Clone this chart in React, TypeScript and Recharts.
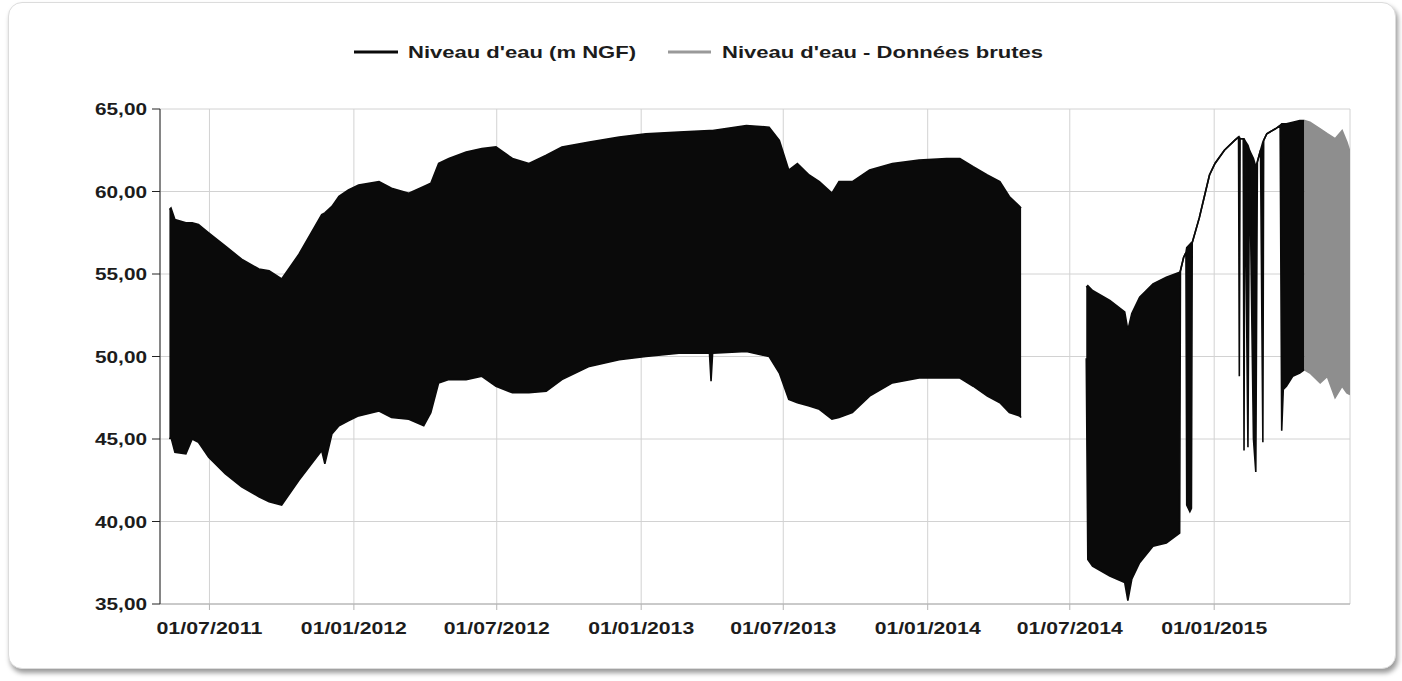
import { ComposedChart, Area, XAxis, YAxis, CartesianGrid } from 'recharts';

// --- Data ---
// Niveau d'eau (m NGF): daily min / max envelope, part 1 (May 2011 -> Apr 2014)
const seg1Dates = [
  '2011-05-11', '2011-05-13', '2011-05-18', '2011-06-01', '2011-06-09', '2011-06-17', '2011-06-30',
  '2011-07-21', '2011-08-11', '2011-09-02', '2011-09-15', '2011-10-01', '2011-10-23', '2011-11-21',
  '2011-11-25', '2011-12-04', '2011-12-13', '2011-12-25', '2012-01-07', '2012-02-02', '2012-02-18',
  '2012-03-11', '2012-03-30', '2012-04-08', '2012-04-18', '2012-05-01', '2012-05-23', '2012-06-12',
  '2012-06-30', '2012-07-21', '2012-08-11', '2012-09-02', '2012-09-22', '2012-10-27', '2012-12-04',
  '2013-01-07', '2013-02-18', '2013-03-29', '2013-03-31', '2013-04-02', '2013-05-15', '2013-06-13',
  '2013-06-26', '2013-07-08', '2013-07-19', '2013-08-03', '2013-08-16', '2013-09-01', '2013-09-10',
  '2013-09-27', '2013-10-19', '2013-11-17', '2013-12-21', '2014-01-25', '2014-02-11', '2014-02-28',
  '2014-03-18', '2014-04-03', '2014-04-15', '2014-04-28', '2014-04-30',
];
const seg1Low = [
  45.0, 45.1, 44.2, 44.1, 45.0, 44.8, 43.9,
  42.9, 42.1, 41.5, 41.2, 41.0, 42.5, 44.3,
  43.5, 45.3, 45.8, 46.1, 46.4, 46.7, 46.3,
  46.2, 45.8, 46.6, 48.4, 48.6, 48.6, 48.8,
  48.2, 47.8, 47.8, 47.9, 48.6, 49.4, 49.8,
  50.0, 50.2, 50.2, 48.5, 50.2, 50.3, 50.0,
  49.0, 47.4, 47.2, 47.0, 46.8, 46.2, 46.3,
  46.6, 47.6, 48.4, 48.7, 48.7, 48.7, 48.2,
  47.6, 47.2, 46.6, 46.4, 46.3,
];
const seg1High = [
  58.9, 59.0, 58.3, 58.1, 58.1, 58.0, 57.5,
  56.7, 55.9, 55.3, 55.2, 54.7, 56.2, 58.6,
  58.7, 59.1, 59.7, 60.1, 60.4, 60.6, 60.2,
  59.9, 60.3, 60.5, 61.7, 62.0, 62.4, 62.6,
  62.7, 62.0, 61.7, 62.2, 62.7, 63.0, 63.3,
  63.5, 63.6, 63.7, 63.7, 63.7, 64.0, 63.9,
  63.1, 61.3, 61.7, 61.0, 60.6, 59.9, 60.6,
  60.6, 61.3, 61.7, 61.9, 62.0, 62.0, 61.5,
  61.0, 60.6, 59.7, 59.1, 59.0,
];

// part 2 (Jul 2014 -> Apr 2015), min == max where only a single line is drawn
const seg2Dates = [
  '2014-07-22', '2014-07-24', '2014-07-30', '2014-08-21', '2014-09-09', '2014-09-13', '2014-09-18',
  '2014-09-28', '2014-10-15', '2014-11-01', '2014-11-18', '2014-11-19', '2014-11-23', '2014-11-26',
  '2014-11-27', '2014-12-01', '2014-12-03', '2014-12-04', '2014-12-13', '2014-12-20', '2014-12-26',
  '2015-01-02', '2015-01-14', '2015-01-27', '2015-02-01', '2015-02-02', '2015-02-03', '2015-02-07',
  '2015-02-08', '2015-02-09', '2015-02-13', '2015-02-15', '2015-02-20', '2015-02-23', '2015-02-25',
  '2015-03-01', '2015-03-04', '2015-03-05', '2015-03-09', '2015-03-20', '2015-03-26', '2015-03-28',
  '2015-03-30', '2015-04-03', '2015-04-11', '2015-04-20', '2015-04-26',
];
const seg2Low = [
  49.9, 37.7, 37.3, 36.7, 36.3, 35.2, 36.5,
  37.5, 38.5, 38.7, 39.3, 55.2, 56.0, 56.3,
  41.0, 40.6, 40.8, 56.9, 58.4, 59.8, 61.0,
  61.7, 62.5, 63.1, 63.3, 48.8, 63.2, 63.2,
  44.3, 63.1, 44.5, 62.5, 45.0, 43.0, 61.8,
  62.5, 44.8, 63.1, 63.5, 63.8, 64.0, 45.5,
  48.0, 48.2, 48.8, 49.0, 49.2,
];
const seg2High = [
  54.2, 54.3, 54.0, 53.4, 52.7, 51.6, 52.6,
  53.6, 54.4, 54.8, 55.1, 55.2, 56.0, 56.3,
  56.6, 56.8, 56.9, 56.9, 58.4, 59.8, 61.0,
  61.7, 62.5, 63.1, 63.3, 63.3, 63.2, 63.2,
  63.2, 63.1, 62.8, 62.5, 62.0, 61.5, 61.8,
  62.5, 63.0, 63.1, 63.5, 63.8, 64.0, 64.1,
  64.1, 64.1, 64.2, 64.3, 64.3,
];

// Niveau d'eau - Données brutes
const rawDates = ['2015-04-26', '2015-05-03', '2015-05-16', '2015-05-25', '2015-06-04', '2015-06-13', '2015-06-19', '2015-06-23'];
const rawLow = [49.2, 49.0, 48.4, 48.8, 47.5, 48.2, 47.8, 47.7];
const rawHigh = [64.3, 64.2, 63.8, 63.5, 63.2, 63.7, 63.0, 62.4];

const xTickDates = ['2011-07-01', '2012-01-01', '2012-07-01', '2013-01-01', '2013-07-01', '2014-01-01', '2014-07-01', '2015-01-01'];
const yTicks = [35, 40, 45, 50, 55, 60, 65];
const xDomain = ['2011-04-29', '2015-06-23'];
const gapDate = '2014-06-01'; // no measurement between the two parts

const ts = (s: string) => Date.parse(s + 'T00:00:00Z');

type Row = { t: number; level?: [number, number] | null; raw?: [number, number] };

const rows: Row[] = [
  ...seg1Dates.map((d, i) => ({ t: ts(d), level: [seg1Low[i], seg1High[i]] as [number, number] })),
  { t: ts(gapDate), level: null },
  ...seg2Dates.map((d, i) => ({ t: ts(d), level: [seg2Low[i], seg2High[i]] as [number, number] })),
  ...rawDates.map((d, i) => ({ t: ts(d), raw: [rawLow[i], rawHigh[i]] as [number, number] })),
];

const FONT = 'Arial, "Liberation Sans", sans-serif';
const TEXT = '#1c1c1c';

const fmtDate = (v: number) => {
  const d = new Date(v);
  const p = (n: number) => String(n).padStart(2, '0');
  return `${p(d.getUTCDate())}/${p(d.getUTCMonth() + 1)}/${d.getUTCFullYear()}`;
};
const fmtLevel = (v: number) => v.toFixed(2).replace('.', ',');

function XTick({ x, y, payload }: any) {
  return (
    <text x={x} y={y} dy={22} textAnchor="middle" fontFamily={FONT} fontSize={17} fontWeight="bold" fill={TEXT}
      textLength={106} lengthAdjust="spacingAndGlyphs">
      {fmtDate(payload.value)}
    </text>
  );
}

function YTick({ x, y, payload }: any) {
  return (
    <text x={x} y={y} dy={6} textAnchor="end" fontFamily={FONT} fontSize={17} fontWeight="bold" fill={TEXT}
      textLength={52} lengthAdjust="spacingAndGlyphs">
      {fmtLevel(payload.value)}
    </text>
  );
}

function LegendBar() {
  return (
    <svg width={1402} height={80} style={{ position: 'absolute', left: 0, top: 0 }}>
      <line x1={354} x2={398} y1={52} y2={52} stroke="#0a0a0a" strokeWidth={3} />
      <text x={408} y={58} fontFamily={FONT} fontSize={17} fontWeight="bold" fill={TEXT}
        textLength={228} lengthAdjust="spacingAndGlyphs">Niveau d'eau (m NGF)</text>
      <line x1={668} x2={711} y1={52} y2={52} stroke="#999999" strokeWidth={3} />
      <text x={722} y={58} fontFamily={FONT} fontSize={17} fontWeight="bold" fill={TEXT}
        textLength={321} lengthAdjust="spacingAndGlyphs">Niveau d'eau - Données brutes</text>
    </svg>
  );
}

export default function App() {
  return (
    <div style={{ position: 'absolute', left: 0, top: 0, width: 1402, height: 681, overflow: 'hidden', background: '#fff' }}>
      <div style={{
        position: 'absolute', left: 8, top: 2, width: 1386, height: 665,
        borderRadius: 14, border: '1px solid #dcdcdc', background: '#fff',
        boxShadow: '2px 4px 5px rgba(0,0,0,0.4)',
      }} />
      <LegendBar />
      <div style={{ position: 'absolute', left: 0, top: 0 }}>
        <ComposedChart width={1402} height={681} data={rows}
          margin={{ top: 109, right: 52, left: 90, bottom: 37 }}>
          <CartesianGrid stroke="#d2d2d2" />
          <XAxis
            type="number"
            dataKey="t"
            domain={xDomain.map(ts)}
            ticks={xTickDates.map(ts)}
            allowDataOverflow
            height={40}
            axisLine={{ stroke: '#aaaaaa' }}
            tickLine={{ stroke: '#b5b5b5' }}
            tickSize={6}
            tickMargin={2}
            tick={<XTick />}
          />
          <YAxis
            type="number"
            domain={[35, 65]}
            ticks={yTicks}
            width={70}
            axisLine={{ stroke: '#222' }}
            tickLine={{ stroke: '#222' }}
            tickSize={8}
            tickMargin={5}
            tick={<YTick />}
          />
          <Area
            dataKey="level"
            name="Niveau d'eau (m NGF)"
            type="linear"
            stroke="#0a0a0a"
            strokeWidth={1.6}
            fill="#0a0a0a"
            fillOpacity={1}
            dot={false}
            activeDot={false}
            connectNulls={false}
            isAnimationActive={false}
          />
          <Area
            dataKey="raw"
            name="Niveau d'eau - Données brutes"
            type="linear"
            stroke="#8e8e8e"
            strokeWidth={1.6}
            fill="#8e8e8e"
            fillOpacity={1}
            dot={false}
            activeDot={false}
            connectNulls={false}
            isAnimationActive={false}
          />
        </ComposedChart>
      </div>
    </div>
  );
}
